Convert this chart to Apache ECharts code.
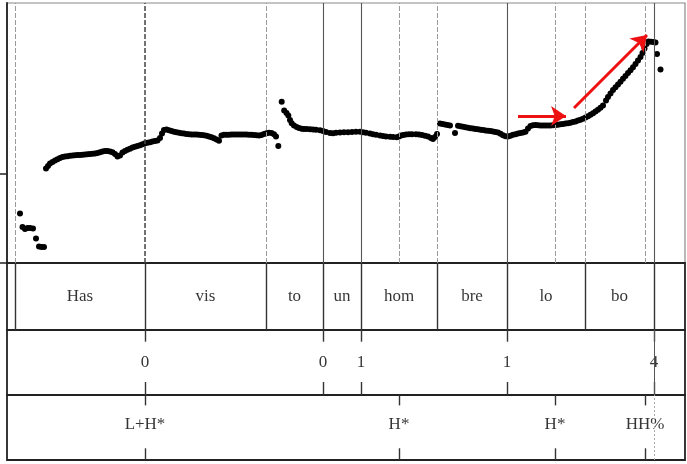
<!DOCTYPE html>
<html>
<head>
<meta charset="utf-8">
<script src="https://cdn.jsdelivr.net/npm/echarts@6/dist/echarts.min.js"></script>
<style>
  html, body { margin: 0; padding: 0; background: #fff; }
  #chart { width: 687px; height: 464px; }
</style>
</head>
<body>
<div id="chart"></div>
<script>
// ---- Data (time in frames, pitch in relative units) ----
const timeRange = [7, 685];
const pitchRange = [0, 260];
const pitchTicks = [0, 89];

const pitchPoints = [
  [20,49.5],[22.5,36],[25,34],[27.5,35],[30,35],[33,34.5],[36,24.5],[39,16.5],[41.5,16],[44,16],
  [46,94.5],[48,97],[50,99.5],[52.5,101],[55,102.5],[57.5,103.7],[60,105],[62.5,106],[65,106.5],[67.5,106.8],
  [70,107.2],[72.5,107.4],[75,107.7],[77.5,108],[80,108],[82.5,108.3],[85,108.5],[87.5,108.8],[90,109],[92.5,109.2],
  [95,109.5],[97.5,110],[100,110.7],[102.5,111.4],[105,112],[107.5,112],[110,111.5],[112.5,110.8],[115,109],[117.5,106.5],
  [120,107.5],[122.5,110.5],[125,112],[127.5,113.2],[130,114.3],[132.5,115.4],[135,116.2],[137.5,117],[140,117.8],[142.5,118.8],
  [145,119.7],[147.5,120.2],[150,120.8],[152.5,121.4],[155,122],[157.5,122.6],[160,125],[162,129.5],[164,133],[166.5,133.5],
  [169,132.7],[171.5,132],[174,131.3],[176.5,130.8],[179,130.2],[181.5,129.8],[184,129.4],[186.5,129],[189,128.8],[191.5,128.6],
  [194,128.5],[196.5,128.4],[199,128.2],[201.5,128],[204,127.7],[206.5,127.2],[209,126.5],[211.5,125.7],[214,124.7],[216.5,123.5],
  [219,122.3],[221.5,127.5],[224,128.2],[226.5,128.3],[229,128.3],[231.5,128.4],[234,128.4],[236.5,128.5],[239,128.5],[241.5,128.5],
  [244,128.5],[246.5,128.4],[249,128.3],[251.5,128.2],[254,128],[256.5,127.7],[259,127.4],[261.5,128],[264,129],[266.5,129.8],
  [269,130.2],[271.5,130],[274,128.8],[276,126.5],[278.3,117],
  [281.7,161.3],[284.2,152.5],[286.5,150],[288.3,147.5],[290,143],[291.7,139.7],[294,137.5],[296.7,136],[299,135],[301.7,134.2],
  [304,134],[306.7,134],[310,133.8],[313,133.6],[316,133.3],[320,132.8],[323,132],[326,131],[330,130],[333,129.8],
  [336,130.2],[340,130.5],[344,130.7],[348,130.7],[352,131],[356,131.2],[360,131.3],[363,130.8],[366,130.2],[370,129.5],
  [373,128.8],[376,128.2],[380,127.5],[383,127],[386,126.6],[390,126.2],[393,125.9],[396.7,125.7],[399,126.5],[401,127.5],
  [403.3,128],[406,128.4],[409,128.7],[412,128.8],[416,128.7],[419,128.5],[422,128],[425,127.3],[428,126.4],[431,125],
  [433,124],[435,126],[437,129],
  [440,139.5],[442.5,139],[445,138.5],[447.5,138],[450,137.5],[455,130],[458,137.2],[460.5,136.7],[463,136.2],[465.5,135.7],
  [468,135.3],[470.5,134.8],[473,134.5],[475.5,134.1],[478,133.7],[480.5,133.3],[483,132.9],[485.5,132.6],[488,132.3],[490.5,132],
  [493,131.6],[495.5,131.1],[498,130.4],[500.5,129.2],[503,127.8],[505.5,126.8],[508,126.5],[510.5,127.2],[513,128.2],[515.5,128.8],
  [518,129.4],[520.5,130],[523,130.5],[525.5,131.2],[528,134.5],[530.5,137],[533,137.7],[535.5,138],[538,137.8],[540.5,137.6],
  [543,137.5],[545.5,137.5],[548,137.5],[550.5,137.6],[553,137.8],[555.5,138],[558,138.3],[560.5,138.7],[563,139],[565.5,139.4],
  [568,139.8],[570.5,140.3],[573,140.9],[575.5,141.6],[578,142.4],[580.5,143.3],[583,144.3],[585.5,145.4],[588,146.7],[590.5,148.2],
  [593,149.8],[595.5,151.5],[598,153.2],[600.5,155.2],[603,157.5],[606,162.5],[608,166],[610.5,169.5],[613,173],[615.5,175.8],
  [618,178.5],[620.5,181.3],[623,184.2],[625.5,187.1],[628,190],[630.5,192.8],[633,195.7],[635.5,199],[638,202.5],[640.5,206],
  [642.5,210],[644.5,214.5],[646.5,219],[648.5,221.5],[651,221.2],[653.5,221],[655.5,220.5],[657,209],[660.5,193.5]
];

const syllableBounds = [15, 145, 266, 323, 361, 437, 507, 585, 654];
const syllables = ["Has", "vis", "to", "un", "hom", "bre", "lo", "bo"];
const breakTimes = [145, 323, 361, 507, 654];
const breakLabels = ["0", "0", "1", "1", "4"];
const toneTimes = [145, 399, 555, 645];
const toneLabels = ["L+H*", "H*", "H*", "HH%"];
// annotation arrows: [fromTime, fromPitch, toTime, toPitch]
const arrows = [
  [518, 147, 566, 147],
  [574, 155, 647, 228]
];

// ---- Build chart ----
const serif = '"Liberation Serif", "DejaVu Serif", serif';
const L = 7, R = 2;
const grids = [
  { left: L, right: R, top: 3, height: 260 },
  { left: L, right: R, top: 263, height: 67 },
  { left: L, right: R, top: 330, height: 65 },
  { left: L, right: R, top: 395, height: 65 }
].map((g, i) => Object.assign(g, {
  show: true,
  borderColor: i === 0 ? '#8a8a8a' : '#222',
  borderWidth: i === 0 ? 1.2 : 1.8,
  backgroundColor: 'transparent'
}));

const xAxes = grids.map((g, i) => ({
  type: 'value', gridIndex: i, min: timeRange[0], max: timeRange[1],
  show: false
}));
const yAxes = grids.map((g, i) => i === 0 ? ({
  type: 'value', gridIndex: 0, min: pitchRange[0], max: pitchRange[1],
  axisLine: { show: true, lineStyle: { color: '#222', width: 1.8 } },
  axisTick: { show: true, inside: false, length: 7, customValues: pitchTicks,
              lineStyle: { color: '#222', width: 1.5 } },
  axisLabel: { show: false },
  splitLine: { show: false }
}) : ({
  type: 'value', gridIndex: i, min: 0, max: 1, show: false
}));

// guide lines in pitch panel: count how many tiers share each time
const allTimes = {};
[syllableBounds, breakTimes, toneTimes].forEach(arr => arr.forEach(t => { allTimes[t] = (allTimes[t] || 0) + 1; }));
const guideData = Object.keys(allTimes).map(Number).sort((a, b) => a - b).map(t => {
  const c = allTimes[t];
  let ls;
  if (c >= 3) ls = { color: '#444', width: 1.5, type: [5, 2] };
  else if (c === 2) ls = { color: '#555', width: 1.1, type: 'solid' };
  else ls = { color: '#9a9a9a', width: 1, type: [5, 2] };
  return { xAxis: t, lineStyle: ls };
});

const sylLabelData = syllables.map((s, i) => ({
  value: [(syllableBounds[i] + syllableBounds[i + 1]) / 2, 0.5], name: s
}));
const breakLabelData = breakTimes.map((t, i) => ({ value: [t, 0.5], name: breakLabels[i] }));
const toneLabelData = toneTimes.map((t, i) => ({ value: [t, 0.54], name: toneLabels[i] }));

function tickPairs(times, topLen, botLen) {
  const out = [];
  times.forEach(t => {
    out.push([{ coord: [t, 1] }, { coord: [t, 1 - topLen] }]);
    out.push([{ coord: [t, botLen] }, { coord: [t, 0] }]);
  });
  return out;
}
const uttEnd = syllableBounds[syllableBounds.length - 1];

const labelStyle = {
  show: true, position: 'inside', formatter: p => p.name,
  fontFamily: serif, fontSize: 17, color: '#000'
};

const option = {
  animation: false,
  backgroundColor: '#fff',
  grid: grids,
  xAxis: xAxes,
  yAxis: yAxes,
  series: [
    {
      type: 'scatter', xAxisIndex: 0, yAxisIndex: 0, data: [], z: 1,
      markLine: {
        silent: true, symbol: ['none', 'none'], label: { show: false },
        data: guideData
      }
    },
    {
      type: 'scatter', xAxisIndex: 0, yAxisIndex: 0, z: 3,
      symbol: 'circle', symbolSize: 6,
      itemStyle: { color: '#000', opacity: 1 },
      data: pitchPoints
    },
    {
      type: 'line', xAxisIndex: 0, yAxisIndex: 0, data: [], z: 5,
      markLine: {
        silent: true, symbol: 'arrow', symbolSize: 15,
        label: { show: false },
        lineStyle: { color: '#ee1111', width: 3, type: 'solid' },
        itemStyle: { color: '#ee1111' },
        data: arrows.map(a => [
          { coord: [a[0], a[1]], symbol: 'none' },
          { coord: [a[2], a[3]], symbol: 'arrow', symbolSize: 15 }
        ])
      }
    },
    {
      type: 'scatter', xAxisIndex: 1, yAxisIndex: 1, symbolSize: 0,
      data: sylLabelData, label: labelStyle,
      markLine: {
        silent: true, symbol: ['none', 'none'], label: { show: false },
        lineStyle: { color: '#333', width: 1.4, type: 'solid' },
        data: syllableBounds.map(t => ({ xAxis: t }))
      }
    },
    {
      type: 'scatter', xAxisIndex: 2, yAxisIndex: 2, symbolSize: 0,
      data: breakLabelData, label: labelStyle,
      markLine: {
        silent: true, symbol: ['none', 'none'], label: { show: false },
        lineStyle: { color: '#333', width: 1.4, type: 'solid' },
        data: tickPairs(breakTimes, 0.18, 0.2).concat([{ xAxis: uttEnd, lineStyle: { color: '#555', width: 1 } }])
      }
    },
    {
      type: 'scatter', xAxisIndex: 3, yAxisIndex: 3, symbolSize: 0,
      data: toneLabelData, label: labelStyle,
      markLine: {
        silent: true, symbol: ['none', 'none'], label: { show: false },
        lineStyle: { color: '#333', width: 1.4, type: 'solid' },
        data: tickPairs(toneTimes, 0.16, 0.18).concat([{ xAxis: uttEnd, lineStyle: { color: '#aaa', width: 1, type: [2, 2] } }])
      }
    }
  ]
};

const chart = echarts.init(document.getElementById('chart'), null, { renderer: 'canvas' });
chart.setOption(option);
</script>
</body>
</html>
